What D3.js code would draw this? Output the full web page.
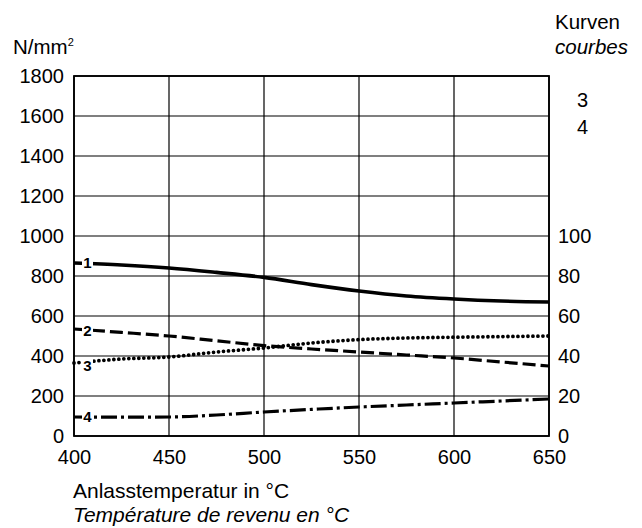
<!DOCTYPE html>
<html><head><meta charset="utf-8">
<script src="https://cdn.jsdelivr.net/npm/d3@7"></script>
<style>
body{margin:0;background:#fff;}
svg text{font-family:"Liberation Sans",Arial,sans-serif;fill:#000;}
</style></head>
<body><svg id="c" width="642" height="528"></svg>
<script>
const temps = [400, 425, 450, 475, 500, 525, 550, 575, 600, 625, 650];
// curves 1 & 2 read on the left axis (N/mm²); curves 3 & 4 on the right axis
const curve1 = [865, 855, 840, 818, 793, 757, 725, 700, 685, 675, 670];
const curve2 = [535, 518, 500, 476, 452, 435, 420, 405, 390, 370, 350];
const curve3 = [36.5, 38.5, 39.5, 42, 44, 46.5, 48.2, 49, 49.4, 49.7, 50];
const curve4 = [9.5, 9.4, 9.5, 10.5, 12, 13.3, 14.5, 15.5, 16.5, 17.5, 18.5];
const xTicks = [400, 450, 500, 550, 600, 650];
const yTicks = [0, 200, 400, 600, 800, 1000, 1200, 1400, 1600, 1800];
const y2Ticks = [0, 20, 40, 60, 80, 100];
const curveLabels = ["1", "2", "3", "4"];

const svg = d3.select("#c");
const L = 74, R = 549, T = 76, B = 436;
const x = d3.scaleLinear().domain([400, 650]).range([L, R]);
const y = d3.scaleLinear().domain([0, 1800]).range([B, T]);
const y2 = d3.scaleLinear().domain([0, 100]).range([B, y(1000)]);
const FS = 20;

// grid
const g = svg.append("g");
g.selectAll(".vg").data(xTicks).join("line")
  .attr("x1", d => x(d)).attr("x2", d => x(d)).attr("y1", T).attr("y2", B)
  .attr("stroke", "#000").attr("stroke-width", 1.2);
g.selectAll(".hg").data(yTicks).join("line")
  .attr("x1", L).attr("x2", R).attr("y1", d => y(d)).attr("y2", d => y(d))
  .attr("stroke", "#000").attr("stroke-width", 1.2);
g.append("rect").attr("x", L).attr("y", T).attr("width", R - L).attr("height", B - T)
  .attr("fill", "none").attr("stroke", "#000").attr("stroke-width", 1.8);

// axes (labels only)
const fmt = d3.format("d");
const axL = d3.axisLeft(y).tickValues(yTicks).tickFormat(fmt).tickSize(0).tickPadding(10);
const gl = svg.append("g").attr("transform", `translate(${L},0)`).call(axL);
const axR = d3.axisRight(y2).tickValues(y2Ticks).tickFormat(fmt).tickSize(0).tickPadding(9);
const gr = svg.append("g").attr("transform", `translate(${R},0)`).call(axR);
const axB = d3.axisBottom(x).tickValues(xTicks).tickFormat(fmt).tickSize(0).tickPadding(14);
const gb = svg.append("g").attr("transform", `translate(0,${B})`).call(axB);
[gl, gr, gb].forEach(a => {
  a.select(".domain").remove();
  a.attr("font-size", FS).attr("font-family", '"Liberation Sans",Arial,sans-serif');
  a.selectAll("text").attr("fill", "#000");
});

// curves
const lineL = d3.line().x((d, i) => x(temps[i])).y(d => y(d)).curve(d3.curveMonotoneX);
const lineR = d3.line().x((d, i) => x(temps[i])).y(d => y2(d)).curve(d3.curveMonotoneX);
const cg = svg.append("g");
cg.append("path").attr("d", lineL(curve1)).attr("fill", "none").attr("stroke", "#000").attr("stroke-width", 3.6);
cg.append("path").attr("d", lineL(curve2)).attr("fill", "none").attr("stroke", "#000").attr("stroke-width", 3.2)
  .attr("stroke-dasharray", "13 5");
cg.append("path").attr("d", lineR(curve3)).attr("fill", "none").attr("stroke", "#000").attr("stroke-width", 3.8)
  .attr("stroke-linecap", "round").attr("stroke-dasharray", "0 5");
cg.append("path").attr("d", lineR(curve4)).attr("fill", "none").attr("stroke", "#000").attr("stroke-width", 3.2)
  .attr("stroke-dasharray", "16 4 3 4");

// curve labels (with white knock-out)
const labelY = [y(curve1[0]), y(curve2[0]) + 2, y2(curve3[0]) + 3, y2(curve4[0])];
curveLabels.forEach((t, i) => {
  svg.append("rect").attr("x", L + 8).attr("y", labelY[i] - 7).attr("width", 11).attr("height", 14).attr("fill", "#fff");
  svg.append("text").attr("x", L + 13.5).attr("y", labelY[i]).attr("dy", "0.36em")
    .attr("text-anchor", "middle").attr("font-size", 15).attr("font-weight", "bold").text(t);
});

// titles
const unit = svg.append("text").attr("x", 13).attr("y", 54).attr("font-size", 20.5);
unit.append("tspan").text("N/mm");
unit.append("tspan").attr("font-size", 11).attr("dy", -8).text("2");
svg.append("text").attr("x", 555).attr("y", 29).attr("font-size", 20.5).text("Kurven");
svg.append("text").attr("x", 555).attr("y", 54).attr("font-size", 20.5).attr("font-style", "italic").text("courbes");
svg.append("text").attr("x", 577).attr("y", 107).attr("font-size", FS).text("3");
svg.append("text").attr("x", 577).attr("y", 134).attr("font-size", FS).text("4");
svg.append("text").attr("x", 73).attr("y", 498).attr("font-size", 21).text("Anlasstemperatur in °C");
svg.append("text").attr("x", 73).attr("y", 522).attr("font-size", 21).attr("font-style", "italic").text("Température de revenu en °C");
</script></body></html>
